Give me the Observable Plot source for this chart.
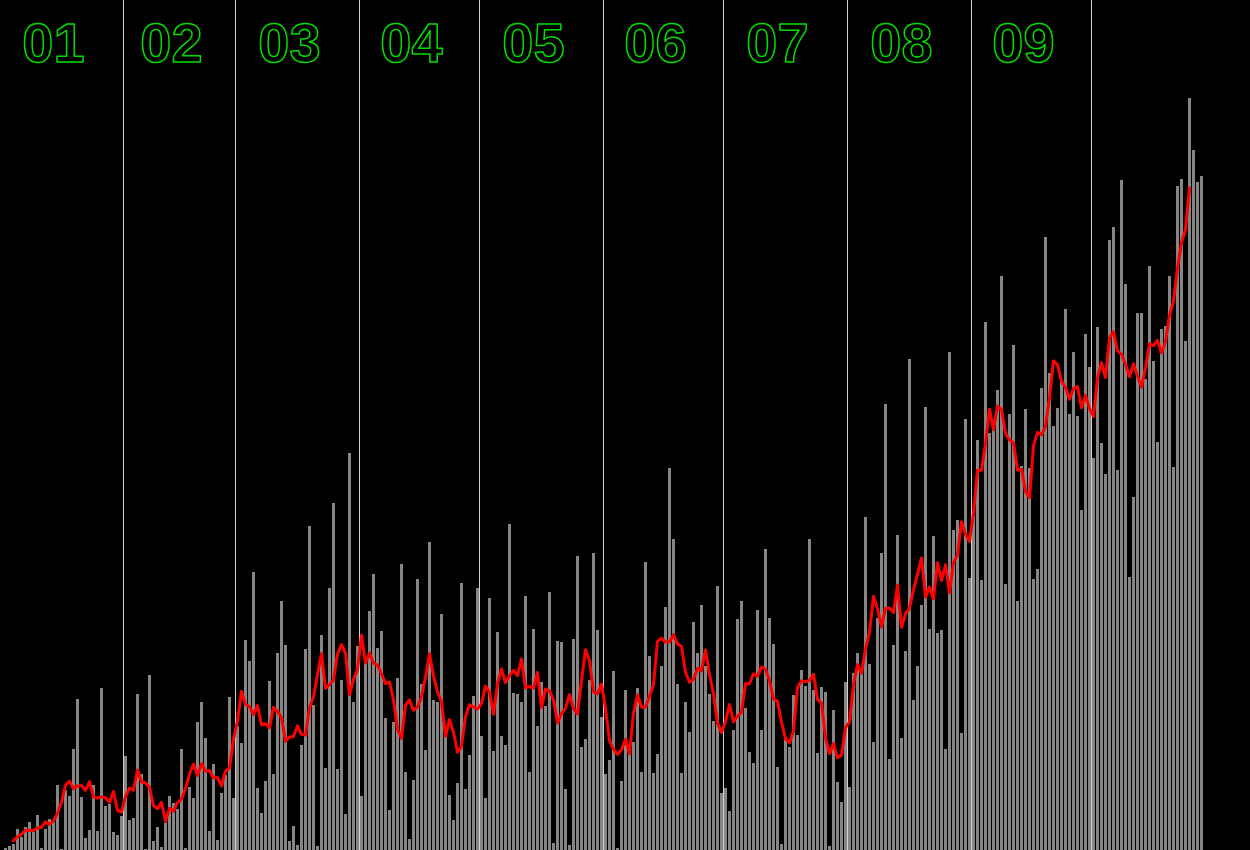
<!DOCTYPE html>
<html>
<head>
<meta charset="utf-8">
<script src="https://cdn.jsdelivr.net/npm/d3@7"></script>
<script src="https://cdn.jsdelivr.net/npm/@observablehq/plot@0.6"></script>
<style>
  html, body { margin: 0; padding: 0; background: #000; overflow: hidden; }
  #chart svg { display: block; background: #000; }
</style>
</head>
<body>
<div id="chart"></div>
<script>
// Daily values (one per day starting 1 January)
const startDate = "2021-01-01";
const dailyValues = [
  0, 2, 4, 6, 21, 13, 23, 28, 18, 35,
  2, 21, 31, 28, 65, 1, 60, 54, 101, 151,
  53, 12, 20, 65, 19, 162, 44, 46, 18, 15,
  34, 94, 30, 32, 156, 76, 1, 175, 9, 23,
  3, 27, 54, 47, 41, 101, 2, 63, 52, 128,
  148, 112, 19, 86, 10, 57, 75, 153, 52, 124,
  107, 210, 189, 278, 62, 37, 69, 169, 76, 197,
  249, 205, 9, 24, 5, 105, 201, 324, 145, 4,
  215, 82, 262, 347, 81, 170, 36, 397, 148, 204,
  54, 189, 239, 276, 202, 219, 132, 40, 128, 172,
  286, 78, 11, 70, 271, 166, 100, 308, 150, 148,
  236, 113, 55, 30, 67, 267, 61, 95, 154, 262,
  114, 52, 252, 99, 218, 114, 105, 326, 157, 156,
  148, 254, 78, 221, 124, 168, 144, 258, 7, 209,
  208, 61, 5, 211, 294, 103, 111, 170, 297, 220,
  133, 76, 90, 179, 2, 69, 160, 98, 108, 162,
  78, 288, 194, 77, 96, 184, 243, 382, 311, 166,
  77, 148, 118, 228, 197, 245, 184, 156, 129, 264,
  57, 62, 39, 120, 231, 249, 142, 98, 87, 240,
  120, 301, 232, 206, 83, 6, 113, 103, 155, 115,
  180, 164, 311, 160, 97, 163, 158, 4, 140, 68,
  48, 168, 63, 177, 197, 177, 333, 186, 108, 232,
  297, 446, 91, 205, 315, 112, 199, 491, 150, 184,
  245, 443, 221, 314, 217, 220, 101, 498, 320, 330,
  117, 431, 272, 334, 410, 270, 528, 417, 430, 460,
  574, 266, 436, 505, 249, 384, 441, 382, 271, 281,
  462, 613, 477, 424, 442, 468, 541, 436, 498, 434,
  340, 516, 483, 392, 523, 407, 376, 610, 623, 380,
  670, 566, 273, 353, 537, 537, 471, 584, 489, 408,
  521, 524, 574, 383, 664, 671, 509, 752, 700, 668,
  674
];
// Month boundaries drawn as rules, and month labels
const monthStarts = ["2021-02-01", "2021-03-01", "2021-04-01", "2021-05-01", "2021-06-01",
                     "2021-07-01", "2021-08-01", "2021-09-01", "2021-10-01"];
const monthLabelDates = ["2021-01-01", "2021-02-01", "2021-03-01", "2021-04-01", "2021-05-01",
                         "2021-06-01", "2021-07-01", "2021-08-01", "2021-09-01"];
const monthLabels = ["01", "02", "03", "04", "05", "06", "07", "08", "09"];

const t0 = new Date(startDate + "T00:00:00Z");
const data = dailyValues.map((v, i) => ({ date: d3.utcDay.offset(t0, i), value: v }));
const rules = monthStarts.map(s => new Date(s + "T00:00:00Z"));
const labels = monthLabels.map((t, i) => {
  const s = new Date(monthLabelDates[i] + "T00:00:00Z");
  const e = d3.utcMonth.offset(s, 1);
  return { date: new Date((+s + +e) / 2), text: t };
});

const W = 1250, H = 850;
const nDays = dailyValues.length;

const chart = Plot.plot({
  width: W,
  height: H,
  margin: 0,
  style: { background: "#000" },
  x: { type: "utc", domain: [t0, d3.utcDay.offset(t0, nDays)], range: [-1, -1 + 4 * nDays], axis: null },
  y: { domain: [0, H], range: [H, 0], axis: null },
  marks: [
    Plot.rectY(data, {
      x1: "date",
      x2: d => d3.utcDay.offset(d.date, 1),
      y: "value",
      insetLeft: 1,
      fill: "#868686"
    }),
    Plot.ruleX(rules, { stroke: "#cfcfcf", strokeWidth: 1 }),
    Plot.lineY(data, Plot.windowY({ k: 7, anchor: "middle", strict: true }, {
      x: "date",
      y: "value",
      dx: 2,
      stroke: "#ff0000",
      strokeWidth: 3,
      strokeLinejoin: "round"
    })),
    Plot.text(labels, {
      x: "date",
      text: "text",
      frameAnchor: "top",
      lineAnchor: "top",
      textAnchor: "middle",
      dx: -8,
      dy: 22,
      fontSize: 56,
      fontWeight: "bold",
      fontFamily: "Liberation Sans",
      fill: "none",
      stroke: "#00dd00",
      strokeWidth: 1.5
    })
  ]
});
document.getElementById("chart").appendChild(chart);
</script>
</body>
</html>
